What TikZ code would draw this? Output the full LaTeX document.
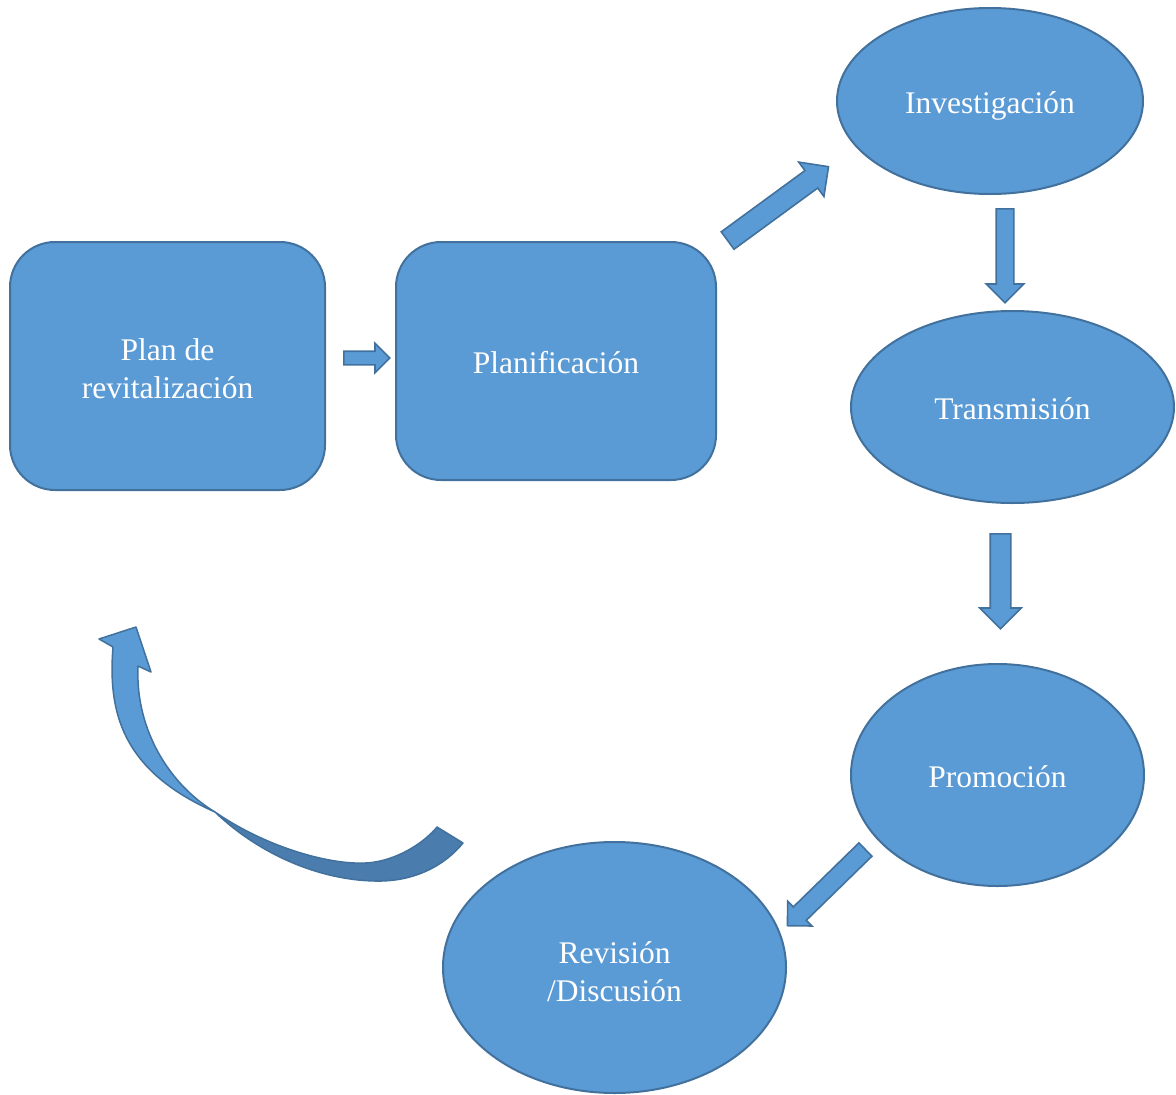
\documentclass[tikz,border=0pt]{standalone}
\usepackage{fontspec}
\setmainfont{Liberation Serif}
\usetikzlibrary{shapes.geometric,shapes.arrows}
\definecolor{fillc}{HTML}{5B9BD5}
\definecolor{bordc}{HTML}{41719C}
\definecolor{darkc}{HTML}{4A7CAD}
% text whose last baseline sits #1 below the node centre
\newcommand{\lbl}[2]{\raisebox{-#1}[0pt][0pt]{\begin{tabular}[b]{@{}c@{}}#2\end{tabular}}}
\tikzset{
  box/.style={rectangle, rounded corners=45, draw=bordc, fill=fillc, line width=2,
    text=white, inner sep=0},
  oval/.style={ellipse, draw=bordc, fill=fillc, line width=2, text=white,
    inner sep=0},
  barrow/.style={single arrow, draw=bordc, fill=fillc, line width=1.6,
    inner xsep=0, anchor=tail},
}
\begin{document}
\begin{tikzpicture}[x=1pt,y=-1pt,font=\fontsize{31.5}{38}\selectfont]
\useasboundingbox (0,0) rectangle (1176,1095);
% main nodes
\node[box, minimum width=315, minimum height=248] (plan) at (167.5,366) {\lbl{32pt}{Plan de\\revitalización}};
\node[box, minimum width=320, minimum height=238] (planif) at (556,361) {\lbl{12.8pt}{Planificación}};
\node[oval, minimum width=306, minimum height=186] (inv) at (990,101) {\lbl{12.4pt}{Investigación}};
\node[oval, minimum width=323, minimum height=192] (trans) at (1012.5,407) {\lbl{12.8pt}{Transmisión}};
\node[oval, minimum width=293, minimum height=222] (prom) at (997.5,775) {\lbl{12.8pt}{Promoción}};
\node[oval, minimum width=343, minimum height=251] (rev) at (614.5,967.5) {\lbl{34pt}{Revisión\\/Discusión}};
% block arrows
\node[barrow, minimum height=46, inner ysep=6, single arrow head extend=8] (a1) at (343,358) {};
\node[barrow, rotate=36.2, minimum height=125, inner ysep=10, single arrow head extend=10.5] (a2) at (727,241) {};
\node[barrow, rotate=-90, minimum height=94, inner ysep=8, single arrow head extend=10] (a3) at (1005,208) {};
\node[barrow, rotate=-90, minimum height=95, inner ysep=9.5, single arrow head extend=10.5] (a4) at (1000.5,533) {};
\node[barrow, rotate=224.3, minimum height=109, inner ysep=8.5, single arrow head extend=8] (a5) at (866,849) {};
% curved return arrow
\coordinate (X) at (215,812);
\fill[darkc, draw=bordc, line width=1.5, line join=round]
  (X) .. controls (270,850) and (340,868) .. (375,862)
      .. controls (400,858) and (425,842) .. (437,827)
  -- (463,843)
      .. controls (445,865) and (415,882) .. (375,881)
      .. controls (320,880) and (260,855) .. (X) -- cycle;
\fill[fillc, draw=bordc, line width=1.5, line join=round]
  (113,647) .. controls (108,710) and (120,770) .. (X)
  .. controls (170,785) and (135,730) .. (138,666)
  -- (151,672) -- (136,627) -- (99,639) -- cycle;
\end{tikzpicture}
\end{document}
